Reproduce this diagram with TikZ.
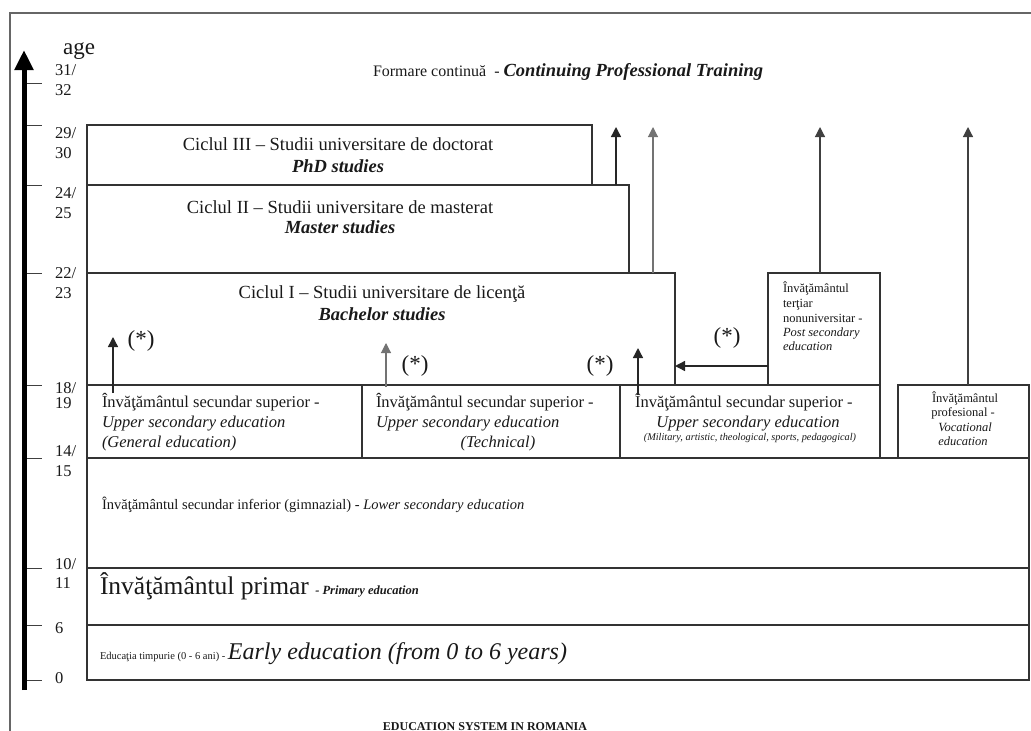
\documentclass[tikz,border=0pt]{standalone}
\usepackage{fontspec}
\setmainfont{Liberation Serif}
\usetikzlibrary{arrows.meta}
\newcommand\myfs[2]{\fontsize{#1}{#2}\selectfont}
\begin{document}
\begin{tikzpicture}[x=1pt,y=-1pt,
  box/.style={draw=black!80, line width=1.3pt, inner sep=0pt, outer sep=0pt, anchor=north west},
  txt/.style={inner sep=0pt, outer sep=0pt, text=black!90},
  tl/.style={txt, anchor=base west},
  tc/.style={txt, anchor=base},
  arr/.style={-{Triangle[width=10pt,length=10pt]}, line width=1.4pt, draw=black!85},
  garr/.style={-{Triangle[width=10pt,length=10pt]}, line width=1.1pt, draw=black!55},
  darr/.style={-{Triangle[width=10pt,length=10pt]}, line width=1.2pt, draw=black!75},
  tick/.style={line width=1pt, draw=black!75},
  lbl/.style={txt, anchor=base west, font=\myfs{16.5}{16.5}},
  star/.style={txt, font=\myfs{23}{23}},
]
\useasboundingbox (0,0) rectangle (1031,731);
% frame
\draw[black!60, line width=1.6pt] (10,731) -- (10,13) -- (1031,13);
% age axis
\coordinate (axb) at (24,690);
\coordinate (axt) at (24,50);
\draw[line width=5pt, -{Triangle[width=18pt,length=20pt]}] (axb) -- (axt);
\node[txt, anchor=base] (age) at (79,54) {\myfs{23}{23}age};
\foreach \y in {83,125,185,273,385,458,568,625,680} \draw[tick] (27,\y) -- (42,\y);
\node[lbl] (l31) at (55,75) {31/};
\node[lbl] (l32) at (55,95) {32};
\node[lbl] (l29) at (55,138) {29/};
\node[lbl] (l30) at (55,158) {30};
\node[lbl] (l24) at (55,198) {24/};
\node[lbl] (l25) at (55,218) {25};
\node[lbl] (l22) at (55,278) {22/};
\node[lbl] (l23) at (55,298) {23};
\node[lbl] (l18) at (55,393) {18/};
\node[lbl] (l19) at (55,408) {19};
\node[lbl] (l14) at (55,456) {14/};
\node[lbl] (l15) at (55,476) {15};
\node[lbl] (l10) at (55,569) {10/};
\node[lbl] (l11) at (55,588) {11};
\node[lbl] (l6) at (55,633) {6};
\node[lbl] (l0) at (55,683) {0};
% top text
\node[tl] (formare) at (373,76) {\myfs{16}{16}Formare continuă\ \ - {\myfs{18.5}{18.5}\bfseries\itshape Continuing Professional Training}};
% boxes
\node[box, minimum width=505pt, minimum height=60pt] (phd) at (87,125) {};
\node[box, minimum width=542pt, minimum height=88pt] (master) at (87,185) {};
\node[box, minimum width=588pt, minimum height=112pt] (bach) at (87,273) {};
\node[box, minimum width=112pt, minimum height=112pt] (post) at (768,273) {};
\node[box, minimum width=275pt, minimum height=73pt] (gen) at (87,385) {};
\node[box, minimum width=258pt, minimum height=73pt] (tech) at (362,385) {};
\node[box, minimum width=260pt, minimum height=73pt] (mil) at (620,385) {};
\node[box, minimum width=131pt, minimum height=73pt] (voc) at (898,385) {};
\node[box, minimum width=942pt, minimum height=110pt] (lower) at (87,458) {};
\node[box, minimum width=942pt, minimum height=57pt] (prim) at (87,568) {};
\node[box, minimum width=942pt, minimum height=55pt] (early) at (87,625) {};
% university texts
\node[tc] (phd1) at (338,150) {\myfs{18.5}{18.5}Ciclul III – Studii universitare de doctorat};
\node[tc] (phd2) at (338,172) {\myfs{18.5}{18.5}\bfseries\itshape PhD studies};
\node[tc] (mas1) at (340,213) {\myfs{18.5}{18.5}Ciclul II – Studii universitare de masterat};
\node[tc] (mas2) at (340,233) {\myfs{18.5}{18.5}\bfseries\itshape Master studies};
\node[tc] (bac1) at (382,298) {\myfs{18.5}{18.5}Ciclul I – Studii universitare de licenţă};
\node[tc] (bac2) at (382,320) {\myfs{18.5}{18.5}\bfseries\itshape Bachelor studies};
% post secondary
\node[tl] (ps1) at (783,292) {\myfs{12.5}{12.5}Învăţământul};
\node[tl] (ps2) at (783,307) {\myfs{12.5}{12.5}terţiar};
\node[tl] (ps3) at (783,322) {\myfs{12.5}{12.5}nonuniversitar -};
\node[tl] (ps4) at (783,336) {\myfs{12.5}{12.5}\itshape Post secondary};
\node[tl] (ps5) at (783,350) {\myfs{12.5}{12.5}\itshape education};
% upper secondary
\node[tl] (g1) at (102,407) {\myfs{16.5}{16.5}Învăţământul secundar superior -};
\node[tl] (g2) at (102,427) {\myfs{16.5}{16.5}\itshape Upper secondary education};
\node[tl] (g3) at (102,447) {\myfs{16.5}{16.5}\itshape (General education)};
\node[tl] (t1) at (376,407) {\myfs{16.5}{16.5}Învăţământul secundar superior -};
\node[tl] (t2) at (376,427) {\myfs{16.5}{16.5}\itshape Upper secondary education};
\node[tc] (t3) at (498,447) {\myfs{16.5}{16.5}\itshape (Technical)};
\node[tl] (m1) at (635,407) {\myfs{16.5}{16.5}Învăţământul secundar superior -};
\node[tc] (m2) at (748,427) {\myfs{16.5}{16.5}\itshape Upper secondary education};
\node[tc] (m3) at (750,440) {\myfs{10.3}{10.3}\itshape (Military, artistic, theological, sports, pedagogical)};
% vocational
\node[tc] (v1) at (965,402) {\myfs{12.5}{12.5}Învăţământul};
\node[tc] (v2) at (963,416.5) {\myfs{12.5}{12.5}profesional -};
\node[tc] (v3) at (965,431) {\myfs{12.5}{12.5}\itshape Vocational};
\node[tc] (v4) at (963,445.5) {\myfs{12.5}{12.5}\itshape education};
% lower, primary, early
\node[tl] (lowt) at (102,509) {\myfs{14.5}{14.5}Învăţământul secundar inferior (gimnazial) - \textit{Lower secondary education}};
\node[tl] (primt) at (100,594) {\myfs{25.5}{25.5}Învăţământul primar {\myfs{12.5}{12.5}\bfseries\itshape - Primary education}};
\node[tl] (earlyt) at (100,659) {\myfs{10.5}{10.5}Educaţia timpurie (0 - 6 ani) - {\myfs{24}{24}\itshape Early education (from 0 to 6 years)}};
% title
\node[tc] (title) at (485,730) {\myfs{12}{12}\bfseries EDUCATION SYSTEM IN ROMANIA};
% big up arrows
\coordinate (b1) at (616,127);
\coordinate (b2) at (653,127);
\coordinate (b3) at (820,127);
\coordinate (b4) at (968,127);
\draw[arr] (master.north -| b1) -- (b1);
\draw[garr] (bach.north -| b2) -- (b2);
\draw[darr] (post.north -| b3) -- (b3);
\draw[darr] (voc.north -| b4) -- (b4);
% (*) arrows
\coordinate (s1) at (113,393); \coordinate (e1) at (113,337);
\coordinate (s2) at (386,387); \coordinate (e2) at (386,343);
\coordinate (s3) at (638,395); \coordinate (e3) at (638,348);
\draw[arr] (s1) -- (e1);
\draw[garr] (s2) -- (e2);
\draw[arr] (s3) -- (e3);
\draw[arr] ([yshift=-37pt]post.west) -- ([yshift=-37pt]post.west -| bach.east);
\node[star] (st1) at (141,341) {(*)};
\node[star] (st2) at (415,366) {(*)};
\node[star] (st3) at (600,366) {(*)};
\node[star] (st4) at (727,338) {(*)};
\end{tikzpicture}
\end{document}
